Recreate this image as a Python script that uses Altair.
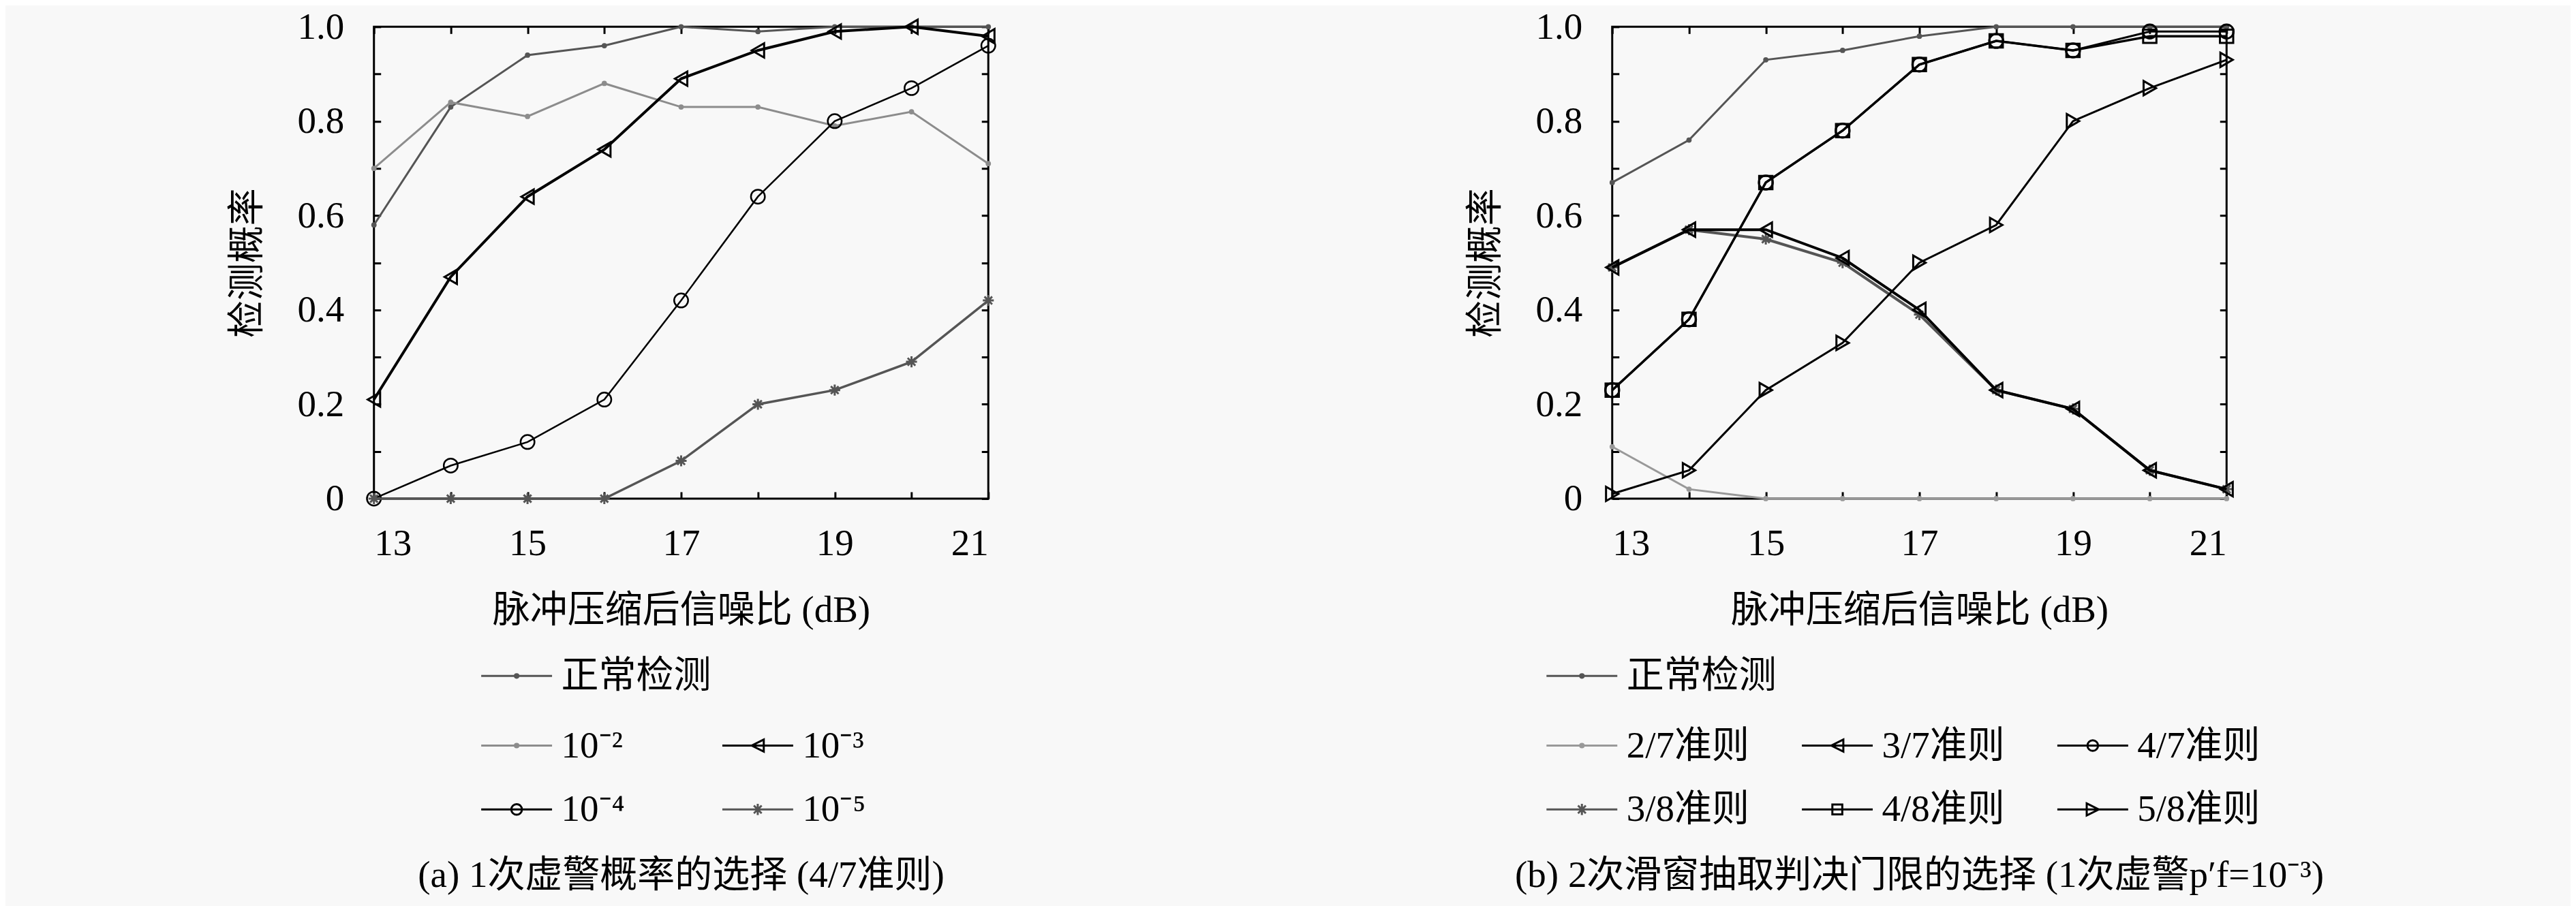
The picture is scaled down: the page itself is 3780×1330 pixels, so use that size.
import altair as alt
import pandas as pd

# ---------------- data ----------------
X = [13, 14, 15, 16, 17, 18, 19, 20, 21]

# (a) first false-alarm probability choice (4/7 rule)
A_NAMES = ["正常检测", "10⁻²", "10⁻³", "10⁻⁴", "10⁻⁵"]
A_NORMAL = [0.58, 0.83, 0.94, 0.96, 1.00, 0.99, 1.00, 1.00, 1.00]
A_PF2 = [0.70, 0.84, 0.81, 0.88, 0.83, 0.83, 0.79, 0.82, 0.71]
A_PF3 = [0.21, 0.47, 0.64, 0.74, 0.89, 0.95, 0.99, 1.00, 0.98]
A_PF4 = [0.00, 0.07, 0.12, 0.21, 0.42, 0.64, 0.80, 0.87, 0.96]
A_PF5 = [0.00, 0.00, 0.00, 0.00, 0.08, 0.20, 0.23, 0.29, 0.42]

# (b) second sliding-window decision threshold choice
B_NAMES = ["正常检测", "2/7准则", "3/7准则", "4/7准则", "3/8准则", "4/8准则", "5/8准则"]
B_NORMAL = [0.67, 0.76, 0.93, 0.95, 0.98, 1.00, 1.00, 1.00, 1.00]
B_27 = [0.11, 0.02, 0.00, 0.00, 0.00, 0.00, 0.00, 0.00, 0.00]
B_37 = [0.49, 0.57, 0.57, 0.51, 0.40, 0.23, 0.19, 0.06, 0.02]
B_47 = [0.23, 0.38, 0.67, 0.78, 0.92, 0.97, 0.95, 0.99, 0.99]
B_38 = [0.49, 0.57, 0.55, 0.50, 0.39, 0.23, 0.19, 0.06, 0.02]
B_48 = [0.23, 0.38, 0.67, 0.78, 0.92, 0.97, 0.95, 0.98, 0.98]
B_58 = [0.01, 0.06, 0.23, 0.33, 0.50, 0.58, 0.80, 0.87, 0.93]

X_TICKS = [13, 14, 15, 16, 17, 18, 19, 20, 21]
Y_TICKS = [0.0, 0.1, 0.2, 0.3, 0.4, 0.5, 0.6, 0.7, 0.8, 0.9, 1.0]

X_TITLE = "脉冲压缩后信噪比 (dB)"
Y_TITLE = "检测概率"
CAP_A = "(a) 1次虚警概率的选择 (4/7准则)"
CAP_B = "(b) 2次滑窗抽取判决门限的选择 (1次虚警p′f=10⁻³)"

# ---------------- styles ----------------
FONT = "Liberation Serif, Noto Sans CJK SC"
FS = 55
W, H = 902, 693
TICK = 10

STAR = "M-1,0L1,0M0,-1L0,1M-0.7,-0.7L0.7,0.7M-0.7,0.7L0.7,-0.7"


def legend_path(kind):
    line = "M-1,0L1,0"
    m = {
        "dot": "M-0.05,0A0.05,0.05 0 1,0 0.05,0A0.05,0.05 0 1,0 -0.05,0",
        "tl": "M0.17,-0.17L-0.17,0L0.17,0.17Z",
        "tr": "M-0.17,-0.17L0.17,0L-0.17,0.17Z",
        "circle": "M-0.15,0A0.15,0.15 0 1,0 0.15,0A0.15,0.15 0 1,0 -0.15,0",
        "square": "M-0.14,-0.14L0.14,-0.14L0.14,0.14L-0.14,0.14Z",
        "star": "M-0.16,0L0.16,0M0,-0.16L0,0.16M-0.11,-0.11L0.11,0.11M-0.11,0.11L0.11,-0.11",
    }[kind]
    return line + m


# marker kinds -> (plot shape, size, filled)
MARK = {
    "dot": ("circle", 60, True),
    "tl": ("triangle-left", 440, False),
    "tr": ("triangle-right", 440, False),
    "circle": ("circle", 420, False),
    "square": ("square", 380, False),
    "star": (STAR, 260, False),
}


def xenc(axis=None):
    return alt.X("x:Q", scale=alt.Scale(domain=[13, 21], nice=False, zero=False), axis=axis)


def yenc(axis=None):
    return alt.Y("y:Q", scale=alt.Scale(domain=[0, 1], nice=False, zero=False), axis=axis)


AX_BOTTOM = alt.Axis(orient="bottom", values=X_TICKS, offset=-TICK, tickSize=TICK, tickWidth=3,
                     tickColor="black", domain=False, grid=False,
                     labelExpr="datum.value % 2 == 1 ? datum.label : ''",
                     labelFont=FONT, labelFontSize=FS, labelColor="black", labelPadding=40,
                     title=X_TITLE, titleFont=FONT, titleFontSize=FS, titleFontWeight="normal",
                     titleColor="black", titlePadding=44)
AX_LEFT = alt.Axis(orient="left", values=Y_TICKS, offset=-TICK, tickSize=TICK, tickWidth=3,
                   tickColor="black", domain=False, grid=False,
                   labelExpr="round(datum.value*10) % 2 == 0 ? (datum.value == 0 ? '0' : format(datum.value, '.1f')) : ''",
                   labelFont=FONT, labelFontSize=FS, labelColor="black", labelPadding=44,
                   title=Y_TITLE, titleFont=FONT, titleFontSize=FS, titleFontWeight="normal",
                   titleColor="black", titlePadding=45)
AX_TOP = alt.Axis(orient="top", values=X_TICKS, offset=-TICK, tickSize=TICK, tickWidth=3,
                  tickColor="black", domain=False, grid=False, labels=False, title=None)
AX_RIGHT = alt.Axis(orient="right", values=Y_TICKS, offset=-TICK, tickSize=TICK, tickWidth=3,
                    tickColor="black", domain=False, grid=False, labels=False, title=None)


def series(values, color, sw, kind, msw, axes=None):
    df = pd.DataFrame({"x": X, "y": values})
    base = alt.Chart(df)
    if axes is None:
        xa, ya = None, None
    else:
        xa, ya = axes
    line = base.mark_line(color=color, strokeWidth=sw).encode(x=xenc(xa), y=yenc(ya))
    shape, size, filled = MARK[kind]
    if filled:
        pts = base.mark_point(shape=shape, size=size, filled=True, color=color, opacity=1,
                              strokeWidth=0).encode(x=xenc(), y=yenc())
    else:
        pts = base.mark_point(shape=shape, size=size, filled=False, color=color, opacity=1,
                              strokeWidth=msw).encode(x=xenc(), y=yenc())
    return [line, pts]


def legend_layer(names, vals, colors, kinds, lx, ly, cols, colpad):
    df = pd.DataFrame({"series": names, "x": [X[0]] * len(names), "y": vals})
    leg = alt.Legend(orient="none", legendX=lx, legendY=ly, title=None, columns=cols,
                     direction="horizontal", labelFont=FONT, labelFontSize=FS,
                     labelColor="black", symbolSize=104 * 104, symbolStrokeWidth=3,
                     symbolOpacity=1, labelOffset=12, columnPadding=colpad, rowPadding=12,
                     symbolLimit=0, labelLimit=0)
    return alt.Chart(df).mark_point(opacity=0, filled=False, strokeWidth=3).encode(
        x=xenc(), y=yenc(),
        color=alt.Color("series:N", scale=alt.Scale(domain=names, range=colors), legend=leg),
        shape=alt.Shape("series:N", scale=alt.Scale(domain=names, range=[legend_path(k) for k in kinds]),
                        legend=leg),
    )


def panel(specs, legA, legB, caption):
    layers = []
    for i, (vals, color, sw, kind, msw) in enumerate(specs):
        axes = None
        if i == 0:
            axes = (AX_BOTTOM, AX_LEFT)
        elif i == 1:
            axes = (AX_TOP, AX_RIGHT)
        layers += series(vals, color, sw, kind, msw, axes)
    layers.append(legA)
    layers.append(legB)
    ch = alt.layer(*layers).resolve_scale(
        x="independent", y="independent", color="independent", shape="independent"
    ).properties(
        width=W, height=H,
        title=alt.TitleParams(caption, orient="bottom", font=FONT, fontSize=FS,
                              fontWeight="normal", color="black", anchor="middle", offset=42),
    )
    return ch


GRAY_D = "#555555"
GRAY_L = "#8c8c8c"

specs_a = [
    (A_NORMAL, GRAY_D, 3, "dot", 0),
    (A_PF2, GRAY_L, 3, "dot", 0),
    (A_PF3, "black", 4, "tl", 3),
    (A_PF4, "black", 2.5, "circle", 2.5),
    (A_PF5, GRAY_D, 3.5, "star", 3),
]
legA_a = legend_layer([A_NAMES[0]], [A_NORMAL[0]], [GRAY_D], ["dot"], 156, 900, 1, 0)
legB_a = legend_layer(A_NAMES[1:], [A_PF2[0], A_PF3[0], A_PF4[0], A_PF5[0]],
                      [GRAY_L, "black", "black", GRAY_D], ["dot", "tl", "circle", "star"],
                      156, 1002, 2, 136)
left = panel(specs_a, legA_a, legB_a, CAP_A)

specs_b = [
    (B_NORMAL, GRAY_D, 3, "dot", 0),
    (B_27, "#999999", 3, "dot", 0),
    (B_38, GRAY_D, 4, "star", 3),
    (B_37, "black", 4, "tl", 3),
    (B_48, "black", 3.5, "square", 3),
    (B_47, "black", 3, "circle", 3),
    (B_58, "black", 3, "tr", 3),
]
legA_b = legend_layer([B_NAMES[0]], [B_NORMAL[0]], [GRAY_D], ["dot"], -98, 900, 1, 0)
legB_b = legend_layer(B_NAMES[1:], [B_27[0], B_37[0], B_47[0], B_38[0], B_48[0], B_58[0]],
                      ["#999999", "black", "black", GRAY_D, "black", "black"],
                      ["dot", "tl", "circle", "star", "square", "tr"],
                      -98, 1002, 3, 70)
right = panel(specs_b, legA_b, legB_b, CAP_B)

chart = alt.hconcat(left, right, spacing=683).properties(
    padding={"left": 325, "top": 2, "right": 360, "bottom": 20},
    background="#f8f8f8",
).configure_view(stroke="black", strokeWidth=3)

chart.save("out.html", embed_options={"renderer": "svg", "actions": False})
